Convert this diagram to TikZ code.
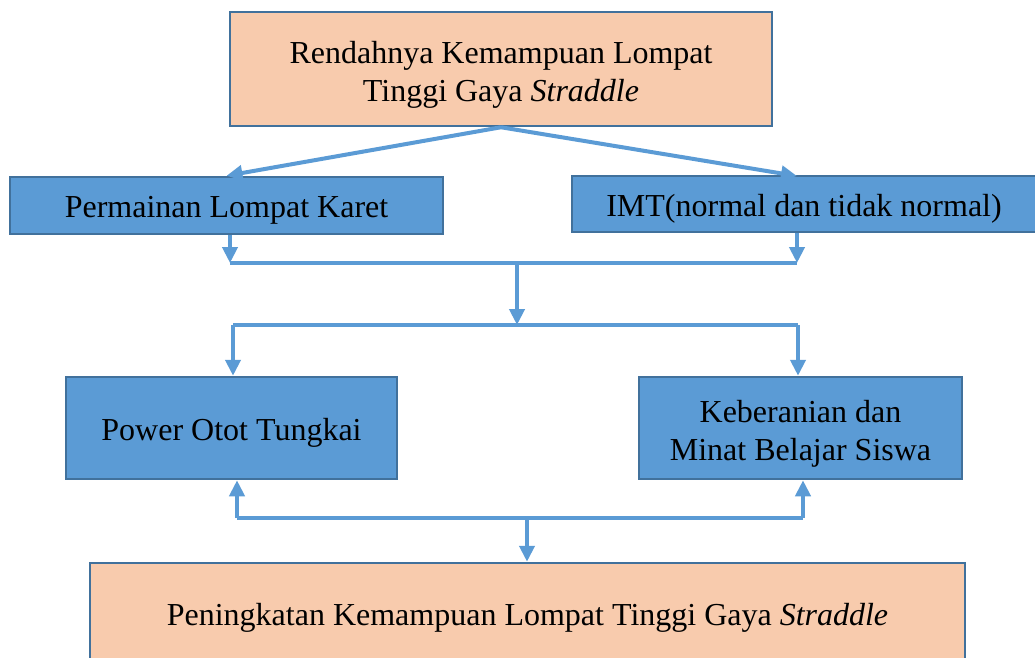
\documentclass[tikz,border=0pt]{standalone}
\usepackage{fontspec}
\setmainfont{Liberation Serif}
\usetikzlibrary{arrows.meta}
\definecolor{peach}{HTML}{F8CBAD}
\definecolor{bluefill}{HTML}{5B9BD5}
\definecolor{blueedge}{HTML}{41719C}
\definecolor{lineblue}{HTML}{5B9BD5}
\newcommand{\toplift}{\rule{0pt}{33pt}}
\tikzset{
  box/.style={draw=blueedge, line width=2.5pt, minimum width=#1, inner sep=0pt, align=center,
    font=\fontsize{32}{38}\selectfont},
  peachbox/.style={box=#1, fill=peach},
  bluebox/.style={box=#1, fill=bluefill},
  conn/.style={draw=lineblue, line width=4pt},
  arr/.style={conn, -{Triangle[width=15pt,length=16pt]}},
}
\begin{document}
\begin{tikzpicture}[x=1pt,y=-1pt]
\useasboundingbox (0,0) rectangle (1035,657);
\clip (0,0) rectangle (1035,657);
\node[peachbox=542pt, minimum height=114pt] (top) at (501,69)
  {\toplift Rendahnya Kemampuan Lompat\\Tinggi Gaya \textit{Straddle}};
\node[bluebox=433pt, minimum height=57pt] (perm) at (226.5,205.5) {\rule{0pt}{31pt}Permainan Lompat Karet};
\node[bluebox=464pt, minimum height=56pt] (imt) at (804,204) {\rule{0pt}{31pt}IMT(normal dan tidak normal)};
\node[bluebox=331pt, minimum height=102pt] (pow) at (231.5,428) {\rule{0pt}{31pt}Power Otot Tungkai};
\node[bluebox=323pt, minimum height=102pt] (keb) at (800.5,428) {\toplift Keberanian dan\\Minat Belajar Siswa};
\node[peachbox=875pt, minimum height=100pt] (bot) at (527.5,613)
  {\rule{0pt}{31pt}Peningkatan Kemampuan Lompat Tinggi Gaya \textit{Straddle}};

\coordinate (imtin) at (797,176);
\coordinate (j1L) at (230,263);
\coordinate (j1R) at (797,263);
\coordinate (j1M) at (517,263);
\coordinate (j2M) at (517,325);
\coordinate (j2L) at (233,325);
\coordinate (j2R) at (798,325);
\coordinate (j3L) at (237,518);
\coordinate (j3R) at (803,518);
\coordinate (j3M) at (527,518);

\draw[arr] (top.south) -- (perm.north);
\draw[arr] (top.south) -- (imtin);
\draw[arr] (perm.south -| j1L) -- (j1L);
\draw[arr] (imt.south -| j1R) -- (j1R);
\draw[conn] (j1L) -- (j1R);
\draw[arr] (j1M) -- (j2M);
\draw[conn] (j2L) -- (j2R);
\draw[arr] (j2L) -- (j2L |- pow.north);
\draw[arr] (j2R) -- (j2R |- keb.north);
\draw[conn] (j3L) -- (j3R);
\draw[arr] (j3L) -- (j3L |- pow.south);
\draw[arr] (j3R) -- (j3R |- keb.south);
\draw[arr] (j3M) -- (j3M |- bot.north);
\end{tikzpicture}
\end{document}
